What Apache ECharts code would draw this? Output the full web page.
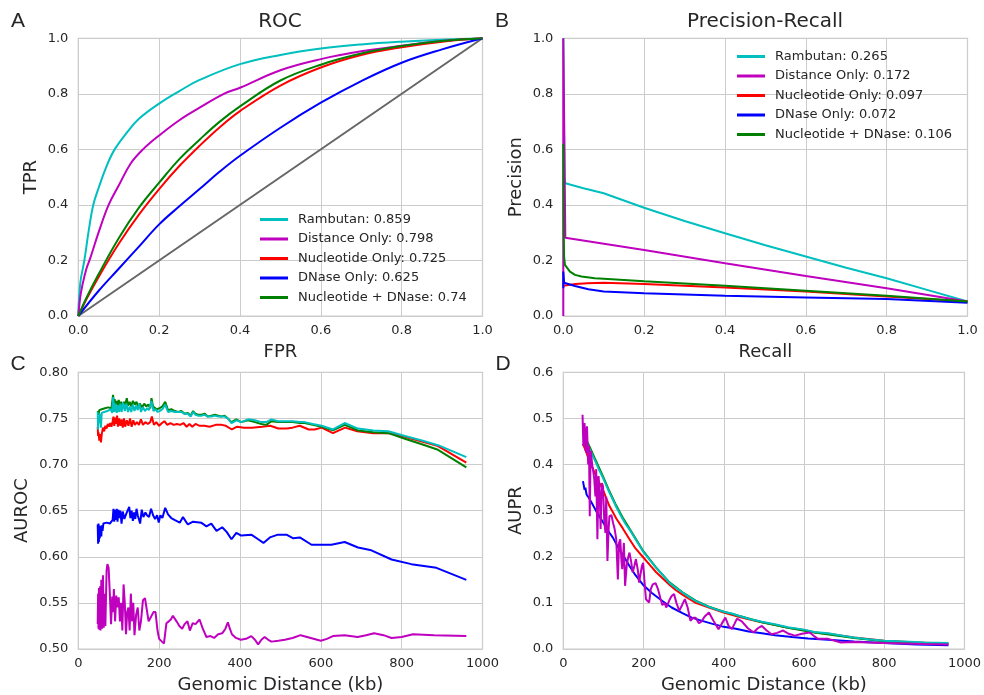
<!DOCTYPE html>
<html>
<head>
<meta charset="utf-8">
<script src="https://cdn.jsdelivr.net/npm/echarts@6/dist/echarts.min.js"></script>
<style>
html,body{margin:0;padding:0;background:#fff;}
#chart{width:984px;height:695px;}
</style>
</head>
<body>
<div id="chart"></div>
<script>
// ---------- DATA ----------
const legendNamesROC = ['Rambutan: 0.859','Distance Only: 0.798','Nucleotide Only: 0.725','DNase Only: 0.625','Nucleotide + DNase: 0.74'];
const legendNamesPR = ['Rambutan: 0.265','Distance Only: 0.172','Nucleotide Only: 0.097','DNase Only: 0.072','Nucleotide + DNase: 0.106'];

// ROC (FPR, TPR)
const rocCyanX = [0,0.005,0.015,0.025,0.037,0.05,0.07,0.09,0.12,0.15,0.2,0.25,0.3,0.4,0.5,0.6,0.7,0.8,0.9,1];
const rocCyanY = [0,0.12,0.2,0.3,0.4,0.46,0.54,0.6,0.66,0.71,0.765,0.81,0.85,0.907,0.94,0.963,0.978,0.988,0.995,1];
const rocMagX = [0,0.005,0.01,0.02,0.03,0.05,0.075,0.1,0.13,0.16,0.2,0.25,0.3,0.36,0.4,0.5,0.6,0.7,0.8,0.9,1];
const rocMagY = [0,0.07,0.11,0.17,0.21,0.3,0.4,0.47,0.55,0.6,0.65,0.705,0.75,0.8,0.822,0.885,0.925,0.953,0.973,0.99,1];
const rocRedX = [0,0.02,0.05,0.1,0.15,0.2,0.25,0.3,0.35,0.4,0.5,0.6,0.7,0.8,0.9,1];
const rocRedY = [0,0.06,0.14,0.26,0.365,0.457,0.54,0.613,0.68,0.738,0.83,0.895,0.94,0.968,0.988,1];
const rocBlueX = [0,0.05,0.1,0.15,0.2,0.25,0.3,0.35,0.4,0.5,0.6,0.7,0.8,0.9,1];
const rocBlueY = [0,0.09,0.17,0.25,0.33,0.395,0.457,0.52,0.577,0.678,0.768,0.846,0.912,0.96,1];
const rocGreenX = [0,0.02,0.05,0.1,0.15,0.2,0.25,0.3,0.35,0.4,0.5,0.6,0.7,0.8,0.9,1];
const rocGreenY = [0,0.065,0.15,0.28,0.39,0.48,0.565,0.635,0.7,0.755,0.848,0.905,0.945,0.972,0.99,1];
const rocDiagX = [0,1];
const rocDiagY = [0,1];

// Precision-Recall (Recall, Precision)
const prCyanX = [0,0.003,0.005,0.05,0.1,0.2,0.3,0.4,0.5,0.6,0.7,0.8,0.9,1.0];
const prCyanY = [1.0,0.5,0.478,0.46,0.442,0.39,0.342,0.298,0.255,0.214,0.174,0.136,0.094,0.052];
const prMagX = [0,0,0.005,0.2,0.4,0.6,0.8,1.0];
const prMagY = [0,1.0,0.282,0.238,0.19,0.144,0.1,0.052];
const prRedX = [0,0.002,0.03,0.06,0.1,0.2,0.4,0.6,0.8,1.0];
const prRedY = [0.109,0.11,0.115,0.118,0.12,0.115,0.103,0.088,0.07,0.052];
const prBlueX = [0,0,0.002,0.029,0.062,0.1,0.2,0.4,0.6,0.8,1.0];
const prBlueY = [0.1,0.16,0.12,0.108,0.096,0.088,0.082,0.073,0.067,0.061,0.048];
const prGreenX = [0,0.001,0.002,0.004,0.0165,0.029,0.045,0.078,0.1,0.2,0.4,0.6,0.8,1.0];
const prGreenY = [0.62,0.3,0.214,0.184,0.16,0.148,0.142,0.136,0.134,0.125,0.109,0.091,0.073,0.052];

// AUROC vs genomic distance (kb, AUROC)
const aurocGreen = [[48,0.758],[50,0.754],[52,0.759],[55,0.757],[58,0.760],[62,0.759],[66,0.761],[70,0.760],[74,0.762],[78,0.763],[82,0.761],[86,0.7755],[88,0.767],[90,0.771],[92,0.765],[95,0.769],[98,0.764],[100,0.770],[103,0.763],[106,0.768],[110,0.762],[113,0.768],[116,0.765],[120,0.772],[123,0.764],[127,0.768],[131,0.763],[135,0.769],[140,0.765],[144,0.768],[148,0.763],[152,0.766],[158,0.762],[163,0.766],[168,0.763],[173,0.765],[178,0.761],[181,0.772],[185,0.763],[189,0.762],[194,0.760],[201,0.761],[208,0.763],[215,0.768],[222,0.759],[230,0.760],[239,0.758],[247,0.757],[255,0.758],[263,0.755],[271,0.756],[278,0.753],[284,0.758],[290,0.755],[296,0.754],[305,0.754],[313,0.755],[320,0.752],[329,0.753],[338,0.754],[346,0.753],[354,0.752],[362,0.753],[370,0.750],[379,0.746],[391,0.749],[403,0.746],[420,0.748],[437,0.746],[453,0.744],[465,0.743],[478,0.747],[494,0.746],[511,0.746],[530,0.746],[548,0.745],[560,0.745],[580,0.743],[602,0.741],[630,0.737],[659,0.743],[692,0.737],[730,0.735],[767,0.734],[808,0.728],[850,0.722],[890,0.716],[960,0.697]];
const aurocCyan = [[48,0.757],[49,0.738],[50,0.752],[52,0.745],[54,0.755],[56,0.740],[58,0.756],[61,0.755],[64,0.757],[68,0.756],[72,0.758],[76,0.757],[80,0.760],[84,0.756],[86,0.773],[89,0.757],[92,0.766],[95,0.756],[98,0.764],[101,0.757],[104,0.766],[107,0.757],[111,0.767],[115,0.758],[119,0.766],[123,0.757],[127,0.763],[131,0.757],[135,0.765],[139,0.758],[143,0.764],[147,0.759],[151,0.766],[155,0.757],[160,0.762],[165,0.758],[170,0.761],[175,0.759],[181,0.769],[186,0.758],[191,0.760],[196,0.757],[201,0.758],[208,0.760],[215,0.765],[222,0.757],[230,0.758],[239,0.757],[247,0.757],[255,0.757],[263,0.755],[271,0.755],[278,0.752],[284,0.757],[290,0.754],[296,0.753],[305,0.753],[313,0.754],[320,0.752],[329,0.752],[338,0.753],[346,0.752],[354,0.752],[362,0.752],[370,0.750],[379,0.745],[391,0.748],[403,0.746],[420,0.749],[437,0.748],[453,0.746],[465,0.746],[478,0.749],[494,0.747],[511,0.747],[530,0.747],[548,0.746],[560,0.746],[580,0.744],[602,0.742],[630,0.738],[659,0.745],[692,0.739],[730,0.737],[767,0.736],[808,0.731],[850,0.726],[890,0.721],[960,0.708]];
const aurocRed = [[48,0.741],[49,0.731],[50,0.735],[52,0.726],[54,0.733],[56,0.724],[58,0.733],[61,0.740],[64,0.736],[67,0.742],[70,0.739],[73,0.744],[76,0.741],[79,0.745],[82,0.741],[85,0.747],[87,0.752],[89,0.742],[91,0.751],[93,0.744],[96,0.753],[98,0.741],[101,0.750],[104,0.742],[107,0.749],[110,0.740],[113,0.750],[116,0.741],[120,0.748],[124,0.742],[128,0.750],[132,0.741],[136,0.748],[140,0.743],[145,0.746],[150,0.743],[155,0.749],[160,0.743],[166,0.746],[172,0.744],[178,0.746],[182,0.752],[187,0.743],[193,0.746],[200,0.742],[207,0.745],[213,0.747],[220,0.743],[228,0.745],[236,0.743],[244,0.744],[252,0.743],[260,0.745],[268,0.741],[275,0.744],[282,0.741],[290,0.744],[300,0.742],[312,0.742],[325,0.741],[340,0.743],[355,0.743],[365,0.742],[380,0.738],[393,0.741],[410,0.740],[430,0.740],[455,0.741],[475,0.742],[495,0.739],[515,0.739],[530,0.740],[548,0.742],[570,0.738],[585,0.738],[602,0.740],[630,0.734],[660,0.740],[690,0.736],[730,0.734],[770,0.734],[800,0.731],[850,0.725],[890,0.720],[960,0.702]];
const aurocBlue = [[48,0.635],[49,0.614],[50,0.636],[51,0.616],[52,0.634],[53,0.620],[55,0.633],[57,0.622],[58,0.634],[60,0.628],[62,0.636],[66,0.634],[70,0.637],[74,0.635],[78,0.636],[82,0.635],[85,0.640],[87,0.652],[89,0.638],[91,0.651],[93,0.640],[95,0.652],[97,0.638],[99,0.651],[102,0.642],[104,0.650],[107,0.636],[110,0.649],[114,0.641],[118,0.646],[122,0.648],[126,0.654],[129,0.642],[132,0.650],[135,0.639],[138,0.648],[141,0.641],[144,0.652],[147,0.645],[150,0.647],[153,0.636],[157,0.651],[161,0.643],[166,0.648],[170,0.645],[175,0.643],[180,0.652],[185,0.645],[190,0.641],[195,0.645],[199,0.637],[203,0.645],[208,0.642],[215,0.653],[222,0.646],[230,0.642],[238,0.640],[251,0.637],[259,0.643],[271,0.635],[284,0.638],[304,0.637],[317,0.633],[329,0.636],[342,0.628],[356,0.632],[367,0.627],[379,0.619],[391,0.626],[403,0.623],[428,0.624],[445,0.619],[458,0.615],[474,0.621],[494,0.624],[515,0.624],[532,0.620],[548,0.621],[577,0.613],[626,0.613],[659,0.616],[692,0.610],[725,0.607],[775,0.597],[824,0.592],[886,0.588],[960,0.575]];
const aurocMag = [[48,0.527],[49,0.560],[50,0.522],[51,0.566],[52,0.521],[54,0.568],[55,0.520],[57,0.575],[59,0.522],[61,0.580],[63,0.523],[65,0.560],[67,0.525],[70,0.585],[72,0.592],[75,0.588],[78,0.560],[81,0.527],[84,0.557],[86,0.540],[88,0.565],[91,0.530],[94,0.558],[97,0.545],[100,0.556],[103,0.530],[106,0.550],[109,0.520],[112,0.570],[115,0.550],[118,0.516],[121,0.540],[124,0.545],[127,0.520],[130,0.560],[133,0.530],[136,0.550],[139,0.515],[143,0.537],[147,0.545],[151,0.520],[155,0.530],[160,0.553],[165,0.555],[169,0.554],[174,0.530],[180,0.535],[186,0.540],[191,0.540],[196,0.520],[200,0.511],[207,0.508],[212,0.506],[218,0.528],[224,0.530],[229,0.532],[234,0.536],[238,0.535],[243,0.530],[250,0.525],[257,0.522],[263,0.527],[270,0.530],[276,0.520],[283,0.528],[290,0.527],[300,0.532],[308,0.522],[317,0.513],[327,0.514],[336,0.512],[346,0.516],[356,0.517],[364,0.522],[370,0.529],[375,0.522],[380,0.516],[390,0.512],[402,0.510],[415,0.511],[428,0.514],[437,0.510],[445,0.505],[453,0.510],[461,0.513],[470,0.510],[478,0.508],[495,0.509],[511,0.510],[530,0.512],[550,0.515],[575,0.512],[600,0.509],[615,0.511],[630,0.514],[659,0.515],[691,0.513],[712,0.515],[732,0.517],[755,0.515],[775,0.512],[800,0.513],[828,0.516],[880,0.515],[960,0.514]];

// AUPR vs genomic distance (kb, AUPR)
const auprCyan = [[49,0.465],[52,0.460],[55,0.450],[58,0.447],[62,0.440],[70,0.425],[82,0.403],[90,0.387],[99,0.371],[107,0.355],[115,0.339],[124,0.323],[132,0.308],[140,0.295],[148,0.282],[156,0.270],[165,0.259],[180,0.238],[198,0.2125],[215,0.194],[231,0.1765],[248,0.160],[264,0.144],[280,0.133],[297,0.1225],[313,0.113],[330,0.1045],[346,0.098],[363,0.0915],[380,0.086],[400,0.0807],[420,0.077],[437,0.072],[465,0.065],[495,0.059],[530,0.053],[560,0.047],[600,0.042],[626,0.037],[660,0.034],[700,0.028],[725,0.025],[760,0.021],[800,0.018],[850,0.016],[900,0.014],[960,0.013]];
const auprGreen = [[49,0.472],[52,0.465],[58,0.452],[62,0.445],[70,0.430],[82,0.407],[99,0.374],[115,0.342],[132,0.311],[148,0.285],[165,0.261],[198,0.214],[231,0.177],[264,0.145],[297,0.123],[330,0.105],[363,0.092],[400,0.081],[437,0.072],[495,0.058],[560,0.046],[626,0.036],[725,0.024],[800,0.017],[900,0.013],[960,0.012]];
const auprRed = [[49,0.445],[55,0.432],[62,0.415],[70,0.398],[82,0.375],[90,0.360],[99,0.345],[107,0.327],[115,0.310],[124,0.296],[132,0.283],[148,0.262],[165,0.238],[180,0.218],[198,0.200],[215,0.183],[231,0.167],[248,0.153],[264,0.140],[280,0.128],[297,0.118],[313,0.109],[330,0.100],[363,0.090],[400,0.079],[437,0.070],[465,0.064],[495,0.058],[530,0.052],[560,0.046],[600,0.041],[626,0.036],[660,0.033],[725,0.025],[800,0.018],[880,0.014],[960,0.012]];
const auprBlue = [[49,0.364],[53,0.345],[55,0.350],[58,0.335],[62,0.330],[70,0.318],[82,0.299],[99,0.275],[115,0.252],[124,0.241],[140,0.215],[148,0.205],[165,0.180],[180,0.160],[198,0.140],[220,0.122],[247,0.104],[270,0.090],[297,0.078],[320,0.068],[346,0.061],[370,0.055],[396,0.049],[430,0.044],[462,0.038],[495,0.034],[528,0.030],[570,0.026],[610,0.023],[660,0.020],[725,0.016],[800,0.013],[880,0.010],[960,0.008]];
const auprMag = [[48,0.508],[50,0.440],[51,0.447],[53,0.490],[55,0.430],[57,0.480],[58,0.425],[59,0.483],[62,0.400],[64,0.440],[66,0.288],[68,0.430],[69,0.425],[72,0.400],[74,0.389],[77,0.370],[80,0.331],[82,0.390],[85,0.238],[88,0.375],[91,0.330],[93,0.260],[96,0.360],[99,0.353],[102,0.280],[105,0.252],[107,0.330],[110,0.191],[113,0.260],[115,0.288],[120,0.290],[124,0.274],[128,0.260],[132,0.238],[136,0.151],[139,0.230],[142,0.238],[145,0.190],[147,0.173],[151,0.230],[154,0.137],[158,0.180],[162,0.200],[165,0.209],[169,0.190],[173,0.166],[177,0.180],[181,0.195],[186,0.170],[189,0.144],[192,0.160],[196,0.180],[199,0.187],[203,0.140],[206,0.108],[210,0.110],[214,0.101],[218,0.130],[223,0.140],[230,0.143],[236,0.130],[242,0.110],[247,0.095],[252,0.100],[257,0.090],[264,0.105],[270,0.115],[276,0.119],[282,0.100],[289,0.083],[296,0.095],[303,0.108],[310,0.090],[317,0.061],[324,0.068],[330,0.068],[338,0.056],[345,0.060],[352,0.070],[363,0.079],[375,0.060],[387,0.043],[395,0.055],[404,0.068],[412,0.050],[420,0.043],[427,0.055],[433,0.066],[445,0.060],[460,0.045],[474,0.036],[485,0.045],[495,0.050],[507,0.040],[519,0.032],[533,0.035],[548,0.040],[562,0.033],[577,0.029],[595,0.033],[614,0.036],[625,0.028],[635,0.022],[660,0.022],[692,0.014],[725,0.015],[760,0.014],[800,0.013],[850,0.012],[900,0.011],[960,0.010]];

// tick settings
const unitTicks = {min:0, max:1, interval:0.2};
const aurocTicks = {min:0.5, max:0.8, interval:0.05};
const auprTicks = {min:0, max:0.6, interval:0.1};
const distTicks = {min:0, max:1000, interval:200};

// ---------- CHART ----------
const C = {cyan:'#00bfbf', mag:'#bf00bf', red:'#ff0000', blue:'#0000ff', green:'#008000', gray:'#666666'};
const FONT = '"DejaVu Sans", "Liberation Sans", sans-serif';
const TXT = '#262626';
const zip = (xs, ys) => xs.map((x, i) => [x, ys[i]]);

const grids = [
  {left:78.3, top:38.3, width:404.2, height:277.7},
  {left:563.3, top:38.3, width:404.2, height:277.7},
  {left:78.3, top:372.3, width:404.2, height:277.7},
  {left:563.3, top:372.3, width:404.2, height:277.7}
];

function axis(gi, ticks, fmt, name, gap, isY){
  return Object.assign({
    type:'value', gridIndex:gi, name:name, nameLocation:'middle', nameGap:gap,
    nameTextStyle:{fontFamily:FONT, fontSize:18, color:TXT},
    axisLine:{show:false}, axisTick:{show:false},
    splitLine:{show:true, lineStyle:{color:'#cccccc', width:1}},
    axisLabel:{fontFamily:FONT, fontSize:13, color:TXT, margin: isY?10:8, formatter: fmt, showMinLabel:true, showMaxLabel:true}
  }, ticks);
}
const f1 = v => v.toFixed(1);
const f2 = v => v.toFixed(2);
const f0 = v => String(Math.round(v));

function line(name, gi, data, color, extra){
  return Object.assign({
    type:'line', name:name, xAxisIndex:gi, yAxisIndex:gi, data:data,
    symbol:'none', showSymbol:false, animation:false,
    lineStyle:{color:color, width:2}, itemStyle:{color:color},
    clip:true
  }, extra||{});
}
const sm = {smooth:0.4};

const series = [
  line('diag', 0, zip(rocDiagX, rocDiagY), C.gray),
  line(legendNamesROC[0], 0, zip(rocCyanX, rocCyanY), C.cyan, sm),
  line(legendNamesROC[1], 0, zip(rocMagX, rocMagY), C.mag, sm),
  line(legendNamesROC[2], 0, zip(rocRedX, rocRedY), C.red, sm),
  line(legendNamesROC[3], 0, zip(rocBlueX, rocBlueY), C.blue, sm),
  line(legendNamesROC[4], 0, zip(rocGreenX, rocGreenY), C.green, sm),

  line(legendNamesPR[0], 1, zip(prCyanX, prCyanY), C.cyan),
  line(legendNamesPR[1], 1, zip(prMagX, prMagY), C.mag),
  line(legendNamesPR[2], 1, zip(prRedX, prRedY), C.red),
  line(legendNamesPR[3], 1, zip(prBlueX, prBlueY), C.blue),
  line(legendNamesPR[4], 1, zip(prGreenX, prGreenY), C.green),

  line('c_blue', 2, aurocBlue, C.blue),
  line('c_red', 2, aurocRed, C.red),
  line('c_green', 2, aurocGreen, C.green),
  line('c_cyan', 2, aurocCyan, C.cyan),
  line('c_mag', 2, aurocMag, C.mag),

  line('d_blue', 3, auprBlue, C.blue),
  line('d_red', 3, auprRed, C.red),
  line('d_green', 3, auprGreen, C.green),
  line('d_cyan', 3, auprCyan, C.cyan),
  line('d_mag', 3, auprMag, C.mag)
];

function legend(names, left, top){
  return {
    data: names, orient:'vertical', left:left, top:top, padding:0,
    icon:'rect', itemWidth:28, itemHeight:3, itemGap:4.5,
    selectedMode:false,
    textStyle:{fontFamily:FONT, fontSize:13, color:TXT, lineHeight:15, padding:[0,0,0,5]}
  };
}

function txt(text, x, y, size, family){
  return {type:'text', x:x, y:y, silent:true,
    style:{text:text, fill:TXT, font: size+'px '+(family||FONT), align:'center', verticalAlign:'middle'}};
}

const option = {
  backgroundColor:'#ffffff',
  animation:false,
  grid: grids.map(g => Object.assign({show:true, borderColor:'#cccccc', borderWidth:1.25, containLabel:false}, g)),
  xAxis: [
    axis(0, unitTicks, f1, 'FPR', 27, false),
    axis(1, unitTicks, f1, 'Recall', 27, false),
    axis(2, distTicks, f0, 'Genomic Distance (kb)', 27, false),
    axis(3, distTicks, f0, 'Genomic Distance (kb)', 27, false)
  ],
  yAxis: [
    axis(0, unitTicks, f1, 'TPR', 38, true),
    axis(1, unitTicks, f1, 'Precision', 38, true),
    axis(2, aurocTicks, f2, 'AUROC', 47, true),
    axis(3, auprTicks, f1, 'AUPR', 38, true)
  ],
  legend: [legend(legendNamesROC, 260, 212), legend(legendNamesPR, 737, 49)],
  graphic: [
    txt('ROC', 280, 22, 20),
    txt('Precision-Recall', 765, 22, 20),
    txt('A', 18, 21, 21, '"Liberation Sans", sans-serif'),
    txt('B', 502, 21, 21, '"Liberation Sans", sans-serif'),
    txt('C', 18, 364, 21, '"Liberation Sans", sans-serif'),
    txt('D', 503, 364, 21, '"Liberation Sans", sans-serif')
  ],
  series: series
};

const chart = echarts.init(document.getElementById('chart'), null, {renderer:'canvas'});
chart.setOption(option);
</script>
</body>
</html>
